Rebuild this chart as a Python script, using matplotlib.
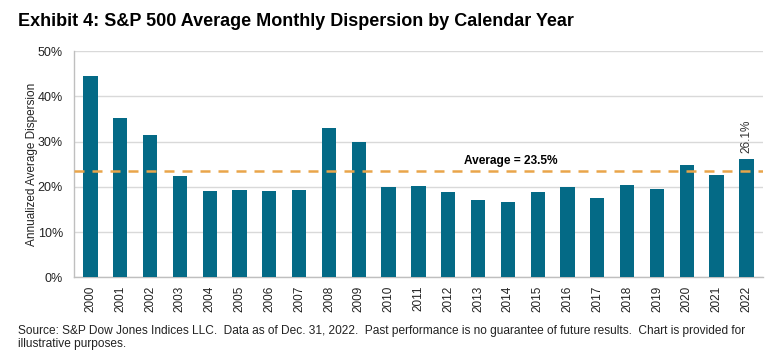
import matplotlib
matplotlib.use("Agg")
from matplotlib import pyplot as plt
import numpy as np

plt.rcParams['font.family'] = ['Liberation Sans', 'DejaVu Sans']

years = [str(y) for y in range(2000, 2023)]
dispersion = [44.6, 35.3, 31.5, 22.5, 19.1, 19.4, 19.2, 19.4, 33.1, 30.0,
              20.0, 20.2, 18.8, 17.2, 16.7, 18.9, 20.0, 17.5, 20.5, 19.5,
              24.9, 22.6, 26.1]
average = 23.5
yticks = [0, 10, 20, 30, 40, 50]

bar_color = '#046A86'
avg_color = '#E9A54A'
grid_color = '#D9D9D9'

fig = plt.figure(figsize=(7.76, 3.57), dpi=100)
ax = fig.add_axes([0.0954, 0.2227, 0.8876, 0.6343])

x = np.arange(len(years))
ax.bar(x, dispersion, width=0.48, color=bar_color, zorder=3)
ax.axhline(average, color=avg_color, linestyle=(0, (4, 3.2)), linewidth=1.8, zorder=4)

ax.text(14.1, average + 1.0, 'Average = 23.5%', ha='center', va='bottom',
        fontsize=8.6, fontweight='bold', color='#000000')
ax.text(x[-1], dispersion[-1] + 1.3, '26.1%', rotation=90, ha='center', va='bottom',
        fontsize=8.5, color='#333333')

ax.set_xlim(-0.55, len(years) - 0.45)
ax.set_ylim(0, 50)
ax.set_yticks(yticks)
ax.set_yticklabels([f'{t}%' for t in yticks], fontsize=9, color='#222222')
ax.set_xticks(x)
ax.set_xticklabels(years, rotation=90, fontsize=8.5, color='#222222')
ax.tick_params(axis='both', length=0)
ax.tick_params(axis='y', pad=8)
ax.tick_params(axis='x', pad=6)

ax.grid(axis='y', color=grid_color, linewidth=1, zorder=0)
for side in ['top', 'right']:
    ax.spines[side].set_visible(False)
for side in ['left', 'bottom']:
    ax.spines[side].set_color('#BFBFBF')
    ax.spines[side].set_linewidth(1)

ax.set_ylabel('Annualized Average Dispersion', fontsize=8.5, color='#222222', labelpad=-0.5)

fig.text(0.023, 0.915, 'Exhibit 4: S&P 500 Average Monthly Dispersion by Calendar Year',
         fontsize=13, fontweight='bold', ha='left', va='bottom')
fig.text(0.023, 0.02, 'Source: S&P Dow Jones Indices LLC.  Data as of Dec. 31, 2022.  '
         'Past performance is no guarantee of future results.  Chart is provided for\n'
         'illustrative purposes.', fontsize=8.6, ha='left', va='bottom',
         color='#222222', linespacing=1.1)

fig.savefig('out.png', dpi=100)
